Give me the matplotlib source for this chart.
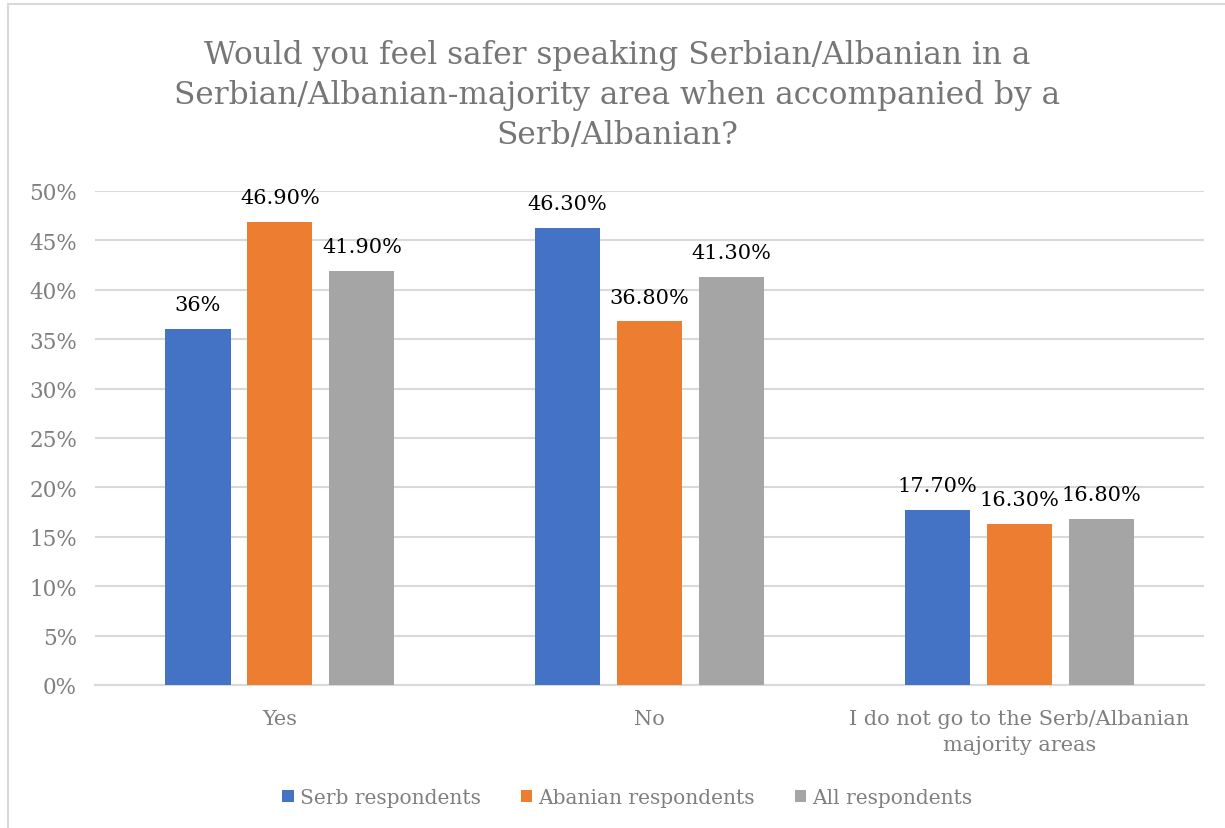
import numpy as np
import matplotlib
matplotlib.use('Agg')
import matplotlib.pyplot as plt
from matplotlib.patches import Rectangle

plt.rcParams['font.family'] = ['DejaVu Serif']

# survey answers and shares per respondent group
categories = ['Yes', 'No', 'I do not go to the Serb/Albanian\nmajority areas']
groups = ['Serb respondents', 'Abanian respondents', 'All respondents']
serb = [36.0, 46.3, 17.7]
albanian = [46.9, 36.8, 16.3]
all_resp = [41.9, 41.3, 16.8]
value_labels = [['36%', '46.30%', '17.70%'],
                ['46.90%', '36.80%', '16.30%'],
                ['41.90%', '41.30%', '16.80%']]
colors = ['#4472c4', '#ed7d31', '#a5a5a5']

fig = plt.figure(figsize=(12.25, 8.29), dpi=100)
ax = fig.add_axes([0.0776, 0.1725, 0.9054, 0.5959])

# outer chart frame
fig.patches.append(Rectangle((8 / 1225, -0.05), 1.2, 1 - 5 / 829 + 0.05,
                             transform=fig.transFigure, fill=False,
                             edgecolor='#d9d9d9', linewidth=1.5))

x = np.arange(len(categories))
width = 0.176
step = 0.2216
series = [serb, albanian, all_resp]
for i, vals in enumerate(series):
    pos = x + (i - 1) * step
    bars = ax.bar(pos, np.array(vals) / 100, width, color=colors[i], label=groups[i], zorder=3)
    for b, lab in zip(bars, value_labels[i]):
        ax.text(b.get_x() + b.get_width() / 2, b.get_height() + 0.015, lab,
                ha='center', va='bottom', fontsize=15, color='#000000')

ax.set_xlim(-0.5, 2.5)
ax.set_ylim(0, 0.5)
ax.set_yticks(np.arange(0, 0.51, 0.05))
ax.set_yticklabels([f'{int(round(v * 100))}%' for v in np.arange(0, 0.51, 0.05)])
ax.yaxis.grid(True, color='#d9d9d9', linewidth=1.5, zorder=0)
ax.set_xticks(x)
ax.set_xticklabels(categories, linespacing=1.5)
ax.tick_params(axis='both', length=0, labelcolor='#7f7f7f')
ax.tick_params(axis='y', pad=13, labelsize=15.5)
ax.tick_params(axis='x', pad=17, labelsize=15)
for s in ['top', 'right', 'left']:
    ax.spines[s].set_visible(False)
ax.spines['bottom'].set_color('#d9d9d9')
ax.spines['bottom'].set_linewidth(1.5)

fig.text(0.504, 0.885, 'Would you feel safer speaking Serbian/Albanian in a\n'
         'Serbian/Albanian-majority area when accompanied by a\nSerb/Albanian?',
         ha='center', va='center', fontsize=22.5, color='#767676', linespacing=1.38)

fig.legend(loc='center', bbox_to_anchor=(0.512, 0.037), ncol=3, frameon=False,
           fontsize=14.5, labelcolor='#7f7f7f', handlelength=0.55, handleheight=0.55,
           handletextpad=0.3, columnspacing=2.0)

fig.savefig('out.png', dpi=100)
